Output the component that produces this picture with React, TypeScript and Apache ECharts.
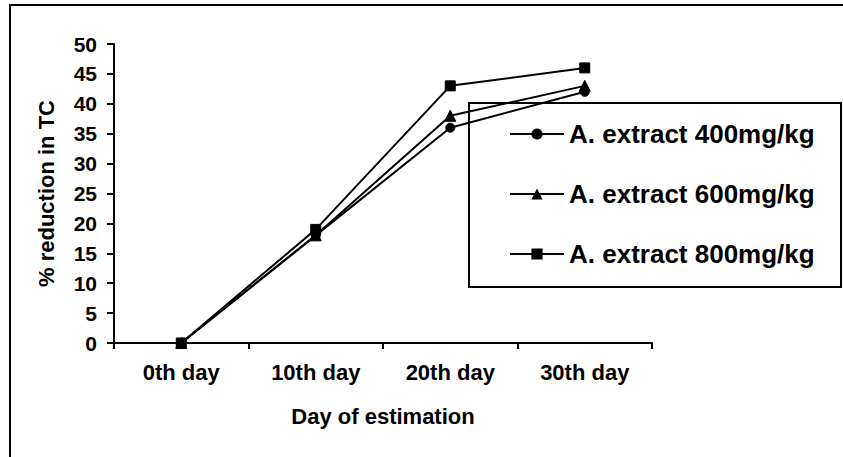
import React, { useEffect, useRef } from "react";
import * as echarts from "echarts";

const categories = ["0th day", "10th day", "20th day", "30th day"];
const seriesNames = ["A. extract 400mg/kg", "A. extract 600mg/kg", "A. extract 800mg/kg"];
const ext400 = [0, 18, 36, 42];
const ext600 = [0, 18, 38, 43];
const ext800 = [0, 19, 43, 46];
const yMin = 0;
const yMax = 50;
const yInterval = 5;

const FONT = "Arial, 'Liberation Sans', sans-serif";

export default function App() {
  const ref = useRef<HTMLDivElement>(null);
  useEffect(() => {
    if (!ref.current) return;
    const chart = echarts.init(ref.current, null, { renderer: "svg" });
    const mk = (name: string, data: number[], symbol: string, size: number) => ({
      name,
      type: "line",
      data,
      symbol,
      symbolSize: size,
      lineStyle: { color: "#000", width: 2 },
      itemStyle: { color: "#000", borderColor: "#000" },
      z: 3,
    });
    chart.setOption({
      animation: false,
      backgroundColor: "#fff",
      textStyle: { fontFamily: FONT },
      grid: { left: 114, right: 191, top: 44, bottom: 114, containLabel: false },
      legend: {
        orient: "vertical",
        left: 504,
        top: 116,
        itemWidth: 54,
        itemHeight: 14,
        itemGap: 34,
        data: seriesNames,
        textStyle: { fontFamily: FONT, fontWeight: "bold", fontSize: 26, color: "#000", lineHeight: 26 },
        inactiveColor: "#000",
      },
      xAxis: {
        type: "category",
        data: categories,
        boundaryGap: true,
        name: "Day of estimation",
        nameLocation: "middle",
        nameGap: 62,
        nameTextStyle: { fontFamily: FONT, fontWeight: "bold", fontSize: 22, color: "#000" },
        axisLine: { lineStyle: { color: "#000", width: 2 } },
        axisTick: { show: true, length: 6, lineStyle: { color: "#000", width: 2 } },
        axisLabel: { fontFamily: FONT, fontWeight: "bold", fontSize: 22, color: "#000", margin: 18 },
        splitLine: { show: false },
      },
      yAxis: {
        type: "value",
        min: yMin,
        max: yMax,
        interval: yInterval,
        name: "% reduction in TC",
        nameLocation: "middle",
        nameGap: 57,
        nameTextStyle: { fontFamily: FONT, fontWeight: "bold", fontSize: 22, color: "#000" },
        axisLine: { show: true, lineStyle: { color: "#000", width: 2 } },
        axisTick: { show: true, length: 7, lineStyle: { color: "#000", width: 2 } },
        axisLabel: { fontFamily: FONT, fontWeight: "bold", fontSize: 21, color: "#000", margin: 17 },
        splitLine: { show: false },
      },
      graphic: [
        {
          type: "rect",
          shape: { x: 10, y: 5, width: 860, height: 480 },
          style: { fill: "none", stroke: "#000", lineWidth: 2 },
          silent: true,
          z: 0,
        },
        {
          type: "rect",
          shape: { x: 469, y: 103, width: 372, height: 184 },
          style: { fill: "none", stroke: "#000", lineWidth: 2 },
          silent: true,
          z: 10,
        },
      ],
      series: [
        mk(seriesNames[0], ext400, "circle", 9),
        mk(seriesNames[1], ext600, "triangle", 11),
        mk(seriesNames[2], ext800, "rect", 10),
      ],
    });
    return () => chart.dispose();
  }, []);
  return (
    <div
      ref={ref}
      style={{ position: "absolute", left: 0, top: 0, width: 843, height: 457, background: "#fff" }}
    />
  );
}
